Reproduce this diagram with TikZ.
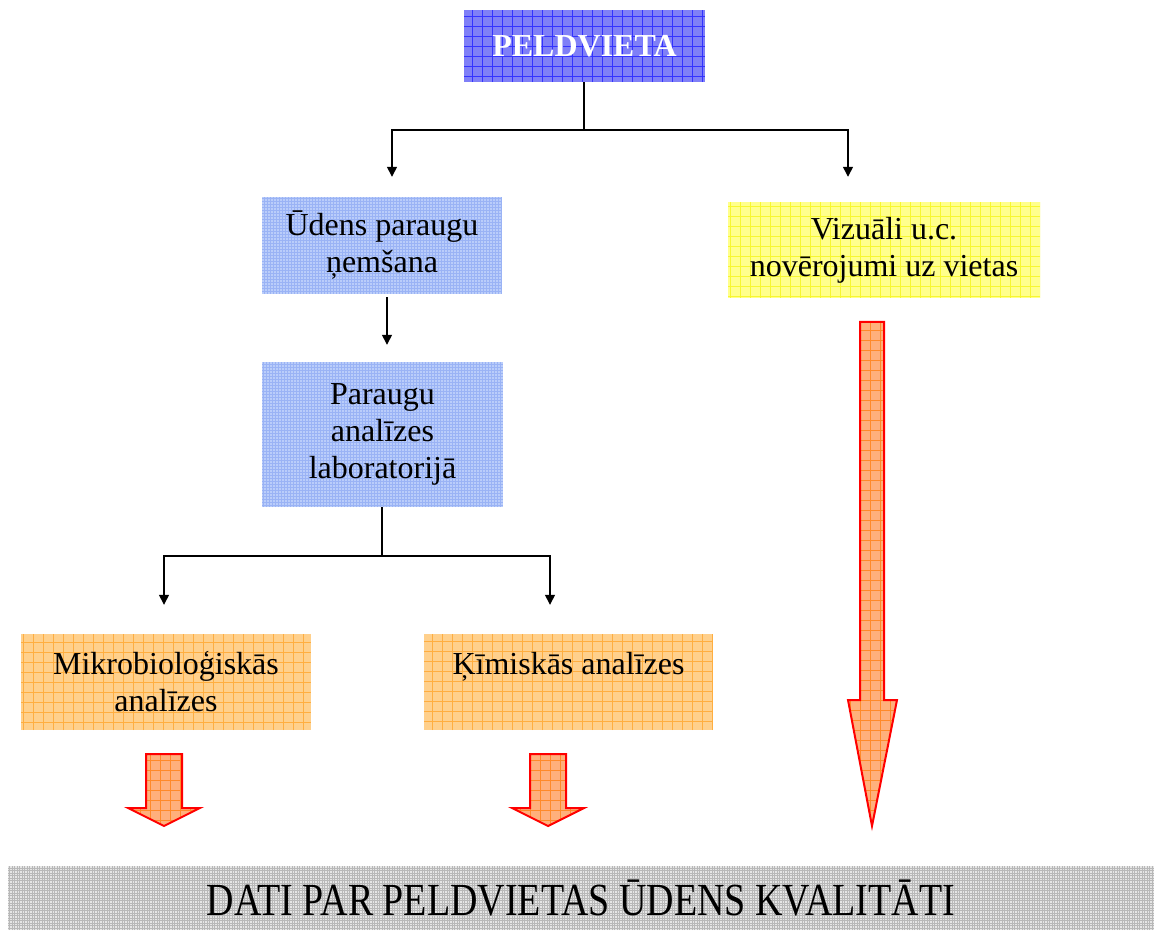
\documentclass[tikz,border=0pt]{standalone}
\usepackage{fontspec}
\setmainfont{Liberation Serif}
\usetikzlibrary{arrows.meta,calc}
\definecolor{peldfill}{HTML}{7F7FF7}
\definecolor{peldline}{HTML}{3333FF}
\definecolor{lbfill}{HTML}{BACDFA}
\definecolor{lbline}{HTML}{9AB3F5}
\definecolor{yelfill}{HTML}{FFFF8C}
\definecolor{yelline}{HTML}{F7F730}
\definecolor{orfill}{HTML}{FFD08C}
\definecolor{orline}{HTML}{FFAE40}
\definecolor{arfill}{HTML}{FFB07C}
\definecolor{arline}{HTML}{FF8A2A}
\definecolor{grfill}{HTML}{E6E6E6}
\definecolor{grline}{HTML}{B8B8B8}
\tikzset{
  gridfill/.style n args={3}{fill=#1, path picture={\draw[#2, line width=0.6pt] (path picture bounding box.south west) grid[step=#3] (path picture bounding box.north east);}},
  boxbase/.style={rectangle, draw=none, inner sep=0pt, align=center, font=\fontsize{32}{37}\selectfont, text=black},
  bluebox/.style={boxbase, gridfill={lbfill}{lbline}{3pt}},
  peldbox/.style={boxbase, gridfill={peldfill}{peldline}{10pt}, font=\fontsize{32}{37}\selectfont\bfseries, text=white},
  yelbox/.style={boxbase, gridfill={yelfill}{yelline}{10pt}},
  orbox/.style={boxbase, gridfill={orfill}{orline}{10pt}},
  graybox/.style={boxbase, gridfill={grfill}{grline}{2.5pt}},
  conn/.style={line width=1.4pt, black},
  arr/.style={conn, -{Triangle[length=10pt,width=10pt]}},
  blockarrow/.style={draw=red, line width=2pt, line join=miter, gridfill={arfill}{arline}{10pt}}
}
\begin{document}
\begin{tikzpicture}[x=1pt,y=-1pt]
\useasboundingbox (0,0) rectangle (1154,933);
% boxes
\node[peldbox, minimum width=241pt, minimum height=72pt] (peld) at (584.5,46) {PELDVIETA};
\node[bluebox, minimum width=240pt, minimum height=97pt] (udens) at (382,245.5) {Ūdens paraugu\\ņemšana};
\node[yelbox, minimum width=312pt, minimum height=96pt] (viz) at (884,250) {Vizuāli u.c.\\novērojumi uz vietas};
\node[bluebox, minimum width=241pt, minimum height=145pt] (par) at (382.5,434.5) {Paraugu\\analīzes\\laboratorijā};
\node[orbox, minimum width=290pt, minimum height=96pt] (mik) at (166,682) {Mikrobioloģiskās\\analīzes};
\node[orbox, minimum width=289pt, minimum height=96pt] (kim) at (568.5,682) {Ķīmiskās analīzes\\\mbox{}};
\node[graybox, minimum width=1146pt, minimum height=64pt] (dati) at (581,898)
  {\resizebox{748pt}{\height}{\fontsize{46}{46}\selectfont DATI PAR PELDVIETAS ŪDENS KVALITĀTI}};
% connectors
\coordinate (p0) at ([xshift=-0.5pt]peld.south);
\coordinate (q0) at ([xshift=-0.5pt]par.south);
\coordinate (j1) at (p0 |- 0,130);
\coordinate (j2) at (q0 |- 0,556);
\draw[conn] (p0) -- (j1);
\draw[arr, shorten >=20pt] (j1) -| ([xshift=10pt]udens.north);
\draw[arr, shorten >=25pt] (j1) -| ([xshift=-36pt]viz.north);
\draw[arr, shorten <=3pt, shorten >=17pt] ([xshift=5pt]udens.south) -- ([xshift=4.5pt]par.north);
\draw[conn] (q0) -- (j2);
\draw[arr, shorten >=29pt] (j2) -| ([xshift=-2pt]mik.north);
\draw[arr, shorten >=29pt] (j2) -| ([xshift=-18.5pt]kim.north);
% block arrows
\path[blockarrow] (146,754) -- (182,754) -- (182,808) -- (200,808) -- (164,826) -- (128,808) -- (146,808) -- cycle;
\path[blockarrow] (530,754) -- (566,754) -- (566,808) -- (584,808) -- (548,826) -- (512,808) -- (530,808) -- cycle;
\path[blockarrow] (860,322) -- (884,322) -- (884,700) -- (897,700) -- (872,826) -- (848,700) -- (860,700) -- cycle;
\end{tikzpicture}
\end{document}
